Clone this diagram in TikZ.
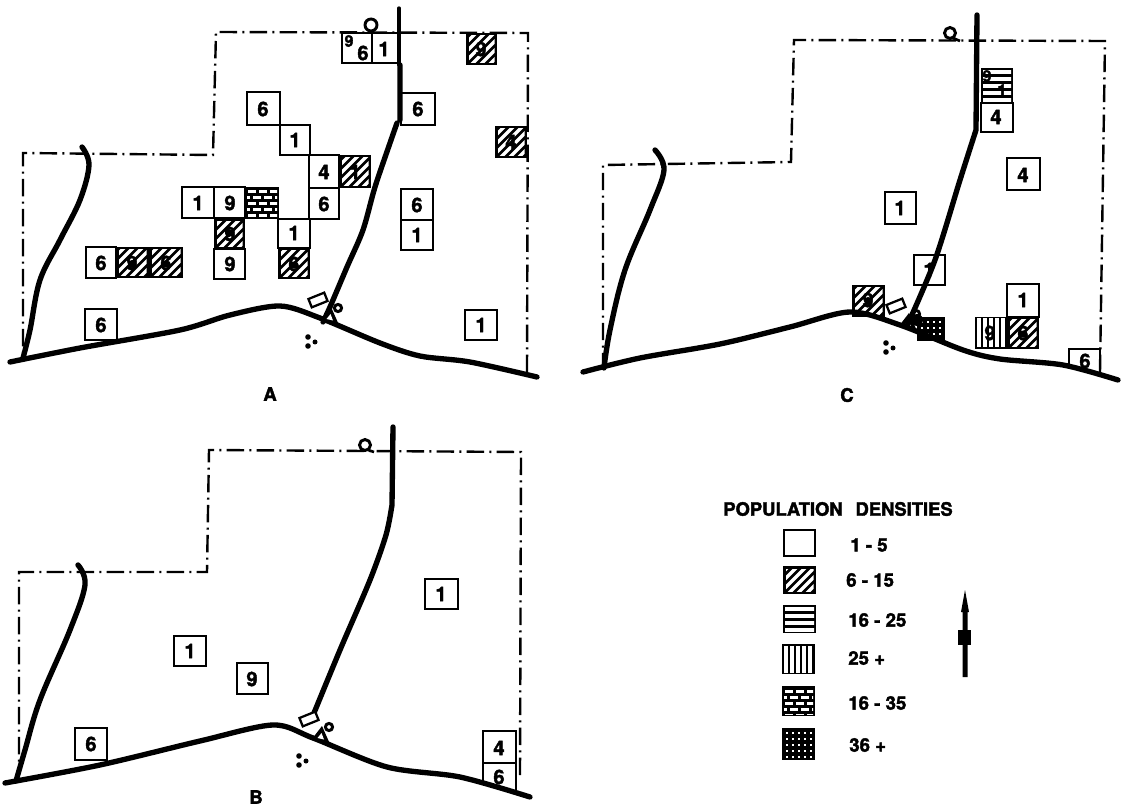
\documentclass[tikz,border=0pt]{standalone}
\usepackage{fontspec}
\setmainfont{TeX Gyre Heros}[BoldFeatures={FakeBold=2}]
\tikzset{
  px/.style={x=0.75pt,y=-0.75pt},
  boundary/.style={line width=1.8pt,dash pattern=on 13pt off 4pt on 1.5pt off 4pt},
  road/.style={line width=4pt,line cap=round,line join=round},
  cellbox/.style={line width=1.5pt,draw=black},
  digit/.style={font=\bfseries\fontsize{15}{15}\selectfont,inner sep=0pt},
  smalldigit/.style={font=\bfseries\fontsize{12}{12}\selectfont,inner sep=0pt},
  legendtext/.style={font=\bfseries\fontsize{14}{14}\selectfont,inner sep=0pt,anchor=west},
  maplabel/.style={font=\bfseries\fontsize{14}{14}\selectfont,inner sep=0pt},
}
% #1 x1, #2 y1, #3 x2, #4 y2
\newcommand\plainbox[4]{\draw[cellbox,fill=white] (#1,#2) rectangle (#3,#4);}
\newcommand\hatchbox[4]{\begin{scope}
  \fill[black] (#1,#2) rectangle (#3,#4);
  \clip (#1+3,#2+3) rectangle (#3-2.5,#4-2.5);
  \foreach \d in {-40,-31,...,50}{\draw[white,line width=2.6pt] (#1+\d,#4) -- ++(50,-50);}
\end{scope}}
\newcommand\horizbox[4]{\begin{scope}
  \fill[black] (#1,#2) rectangle (#3,#4);
  \clip (#1+2,#2+2) rectangle (#3-2,#4-2);
  \foreach \d in {4,11,...,40}{\draw[white,line width=2.6pt] (#1,#2+\d) -- (#3,#2+\d);}
\end{scope}}
\newcommand\vertbox[4]{\begin{scope}
  \fill[black] (#1,#2) rectangle (#3,#4);
  \clip (#1+2,#2+2) rectangle (#3-2,#4-2);
  \foreach \d in {4,10,...,40}{\draw[white,line width=2.4pt] (#1+\d,#2) -- (#1+\d,#4);}
\end{scope}}
\newcommand\brickbox[4]{\begin{scope}
  \fill[black] (#1,#2) rectangle (#3,#4);
  \clip (#1+2,#2+2) rectangle (#3-2,#4-2);
  \foreach \r/\o in {5/2,11/-4,17/2,23/-4,29/2}{
    \foreach \c in {0,11,22,33}{\fill[white] (#1+\o+\c+1,#2+\r-1.5) rectangle ++(7.5,3);}}
\end{scope}}
\newcommand\gridbox[4]{\begin{scope}
  \fill[black] (#1,#2) rectangle (#3,#4);
  \clip (#1+2,#2+2) rectangle (#3-2,#4-2);
  \foreach \r in {5,11,...,40}{
    \foreach \c in {5,11,...,40}{\fill[white] (#1+\c-1.3,#2+\r-1.3) rectangle ++(2.6,2.6);}}
\end{scope}}
% building, well, junction and dot mark
\newcommand\sitemarks[2]{\begin{scope}[shift={(#1,#2)}]
  \draw[line width=1.7pt,fill=white,rotate=22] (-8.5,-4.5) rectangle (8.5,4.5);
  \draw[line width=2.2pt] (20,8) circle (3.6);
  \fill (3,20) -- (13,7) -- (21,25) -- cycle;
  \fill[white] (8.5,19) -- (12.5,14) -- (15,20.5) -- cycle;
  \fill (-10,37) circle (2.8); \fill (-10,46) circle (2.8); \fill (-3,42) circle (2.5);
\end{scope}}

\begin{document}
\begin{tikzpicture}[px]
\useasboundingbox (0,0) rectangle (1122,809);

%% ---------- MAP A ----------
\draw[boundary] (527,372) -- (528,33) -- (216,32) -- (213,155) -- (23,153) -- (23,355);
\plainbox{342}{33}{372}{63}
\plainbox{372}{33}{399}{63}
\plainbox{401}{93}{435}{125}
\hatchbox{466}{33}{497}{65}
\hatchbox{495}{126}{527}{158}
\plainbox{247}{92}{280}{125}
\plainbox{280}{125}{310}{155}
\plainbox{309}{155}{339}{188}
\hatchbox{339}{155}{371}{188}
\plainbox{309}{188}{339}{219}
\plainbox{182}{187}{214}{218}
\plainbox{214}{187}{245}{218}
\brickbox{245}{187}{279}{219}
\hatchbox{214}{219}{245}{249}
\plainbox{214}{249}{245}{279}
\plainbox{278}{219}{310}{248}
\hatchbox{278}{248}{310}{279}
\plainbox{86}{247}{116}{278}
\hatchbox{116}{247}{149}{278}
\hatchbox{149}{247}{183}{278}
\plainbox{85}{309}{117}{340}
\plainbox{465}{310}{497}{340}
\plainbox{401}{189}{433}{220}
\plainbox{401}{220}{433}{250}
\fill (229,233) circle (4); \fill (294,265) circle (3.5); \fill (132,264) circle (4); \fill (166,264) circle (3.5);
\draw[road,line width=2.4pt] (399,8) -- (399,65);
\draw[road] (400,65) -- (400,120) plot[smooth,tension=.5] coordinates {(397,123) (390,143) (375,187) (363,230) (347,267) (330,307) (323,322)};
\draw[road] plot[smooth,tension=.5] coordinates {(10,362) (80,348) (180,330) (230,315) (280,306) (320,318) (380,343) (420,356) (470,362) (537,377)};
\draw[road] plot[smooth,tension=.6] coordinates {(82,147) (89,165) (80,200) (60,240) (40,280) (30,330) (23,358)};
\sitemarks{318}{300}
\draw[line width=2.2pt] (371,25) circle (6);
\node[smalldigit] (a9t) at (349,41) {9};
\node[digit] (a6t) at (363,53) {6};
\node[digit] (a1t) at (384,49) {1};
\node[digit] (a6r) at (418,109) {6};
\node[digit] (a9h) at (481,49) {9};
\node[digit] (a4h) at (511,142) {4};
\node[digit] (a6u) at (263,109) {6};
\node[digit] (a1u) at (295,140) {1};
\node[digit] (a4m) at (324,172) {4};
\node[digit] (a1h) at (355,172) {1};
\node[digit] (a6m) at (324,204) {6};
\node[digit] (a1l) at (198,203) {1};
\node[digit] (a9l) at (230,203) {9};
\node[digit] (a9d) at (230,234) {9};
\node[digit] (a9e) at (230,264) {9};
\node[digit] (a1n) at (294,233) {1};
\node[digit] (a6n) at (294,264) {6};
\node[digit] (a6o) at (101,263) {6};
\node[digit] (a9o) at (132,263) {9};
\node[digit] (a6p) at (166,263) {6};
\node[digit] (a6q) at (101,325) {6};
\node[digit] (a1q) at (481,325) {1};
\node[digit] (a6s) at (417,205) {6};
\node[digit] (a1s) at (417,235) {1};
\node[maplabel] (labA) at (270,394) {A};

%% ---------- MAP C ----------
\draw[boundary] (1100,372) -- (1105,41) -- (794,40) -- (791,162) -- (603,165) -- (603,365);
\plainbox{981}{103}{1013}{132}
\horizbox{981}{68}{1013}{104}
\plainbox{1007}{158}{1040}{190}
\plainbox{885}{192}{916}{224}
\plainbox{914}{255}{945}{285}
\sitemarks{896}{306}
\hatchbox{852}{285}{885}{317}
\gridbox{917}{317}{945}{341}
\fill (917,320) circle (6);
\plainbox{1007}{284}{1039}{317}
\vertbox{975}{317}{1007}{349}
\hatchbox{1007}{317}{1039}{349}
\draw[cellbox] (1069,367) -- (1069,349) -- (1100,349) -- (1100,376);
\fill (868,301) circle (4);
\fill (1023,334) circle (3.5);
\draw[road] (977,15) -- (976,130) plot[smooth,tension=.5] coordinates {(976,130) (960,180) (935,260) (907,326)};
\draw[road] plot[smooth,tension=.5] coordinates {(583,372) (640,358) (720,344) (790,327) (850,312) (900,325) (963,350) (1000,359) (1063,365) (1118,380)};
\draw[road] plot[smooth,tension=.6] coordinates {(655,150) (664,170) (650,210) (625,270) (610,330) (604,368)};
\draw[line width=2.2pt] (950,33) circle (5.5);
\draw[line width=2pt] (953,38) -- (960,41);
\node[smalldigit] (c9) at (987,76) {9};
\node[smalldigit] (c1) at (1002,90) {1};
\node[digit] (c4a) at (996,117) {4};
\node[digit] (c4b) at (1023,175) {4};
\node[digit] (c1a) at (900,208) {1};
\node[digit] (c1b) at (929,270) {1};
\node[digit] (c9h) at (868,300) {9};
\node[digit] (c1c) at (1023,300) {1};
\node[digit] (c9v) at (990,333) {9};
\node[digit] (c6h) at (1023,333) {6};
\node[digit] (c6r) at (1085,361) {6};
\node[maplabel] (labC) at (847,395) {C};

%% ---------- MAP B ----------
\draw[boundary] (520,775) -- (521,452) -- (209,450) -- (207,572) -- (19,572) -- (19,775);
\plainbox{174}{636}{206}{666}
\plainbox{237}{663}{268}{694}
\plainbox{75}{728}{107}{760}
\plainbox{425}{579}{458}{609}
\plainbox{483}{731}{516}{763}
\draw[cellbox] (483,784) -- (483,763) -- (516,763) -- (516,793);
\draw[road] (393,427) -- (392,505) plot[smooth,tension=.5] coordinates {(392,505) (386,535) (370,580) (340,650) (314,713)};
\draw[road] plot[smooth,tension=.5] coordinates {(5,783) (100,765) (200,741) (273,725) (313,738) (387,767) (460,777) (530,797)};
\draw[road] plot[smooth,tension=.6] coordinates {(78,565) (85,585) (70,630) (40,700) (25,750) (16,781)};
\sitemarks{309}{719}
\draw[line width=2.2pt] (365,445) circle (5.5);
\draw[line width=2pt] (368,450) -- (374,452);
\node[digit] (b1a) at (190,651) {1};
\node[digit] (b9) at (252,679) {9};
\node[digit] (b6a) at (91,744) {6};
\node[digit] (b1b) at (441,594) {1};
\node[digit] (b4) at (499,748) {4};
\node[digit] (b6b) at (499,777) {6};
\node[maplabel] (labB) at (256,797) {B};

%% ---------- LEGEND ----------
\node[font=\bfseries\fontsize{13.8}{13.8}\selectfont,inner sep=0pt] (title) at (838,509) {POPULATION\hspace{0.7em}DENSITIES};
\plainbox{784}{530}{815}{556}
\hatchbox{783}{566}{816}{594}
\horizbox{783}{605}{816}{633}
\vertbox{782}{644}{815}{674}
\brickbox{782}{686}{815}{716}
\gridbox{782}{728}{815}{760}
\node[legendtext] (l1) at (850,545) {1 - 5};
\node[legendtext] (l2) at (846,580) {6 - 15};
\node[legendtext] (l3) at (848,620) {16 - 25};
\node[legendtext] (l4) at (848,658) {25 +};
\node[legendtext] (l5) at (848,703) {16 - 35};
\node[legendtext] (l6) at (849,745) {36 +};
% north arrow
\fill (965,590) -- (969,612) -- (967.5,612) -- (967.5,677) -- (962.5,677) -- (962.5,612) -- (961,612) -- cycle;
\fill (958,630) rectangle (971,645);
\end{tikzpicture}
\end{document}
